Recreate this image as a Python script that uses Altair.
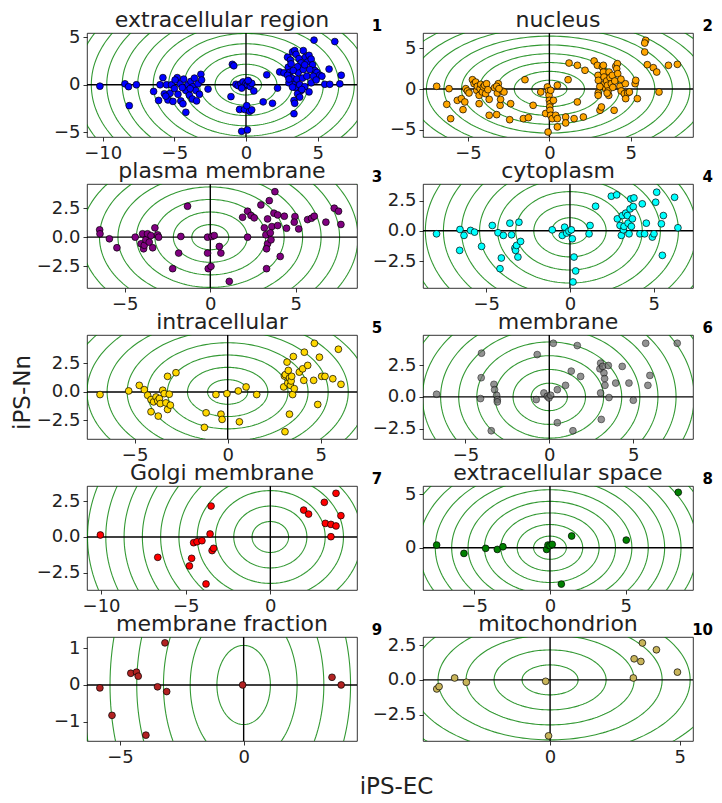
import altair as alt
import pandas as pd
import numpy as np

names = ["extracellular region", "nucleus", "plasma membrane", "cytoplasm", "intracellular",
         "membrane", "Golgi membrane", "extracellular space", "membrane fraction", "mitochondrion"]
colors = ["#0000ff", "#ffa500", "#800080", "#00ffff", "#ffd700",
          "#6e6e6e", "#ff0000", "#008000", "#b22222", "#c8b45a"]
point_opacity = [1, 1, 1, 1, 1, 0.75, 1, 1, 1, 1]
xdomains = [[-11.1, 7.75], [-7.77, 8.83], [-7.21, 8.58], [-8.78, 7.35], [-7.56, 6.95],
            [-7.53, 8.57], [-10.83, 5.12], [-8.37, 9.43], [-6.33, 4.58], [-4.9, 5.51]]
ydomains = [[-5.5, 5.45], [-5.88, 6.86], [-4.37, 4.57], [-4.73, 3.87], [-4.13, 5.0],
            [-3.31, 4.87], [-3.7, 3.56], [-3.94, 5.75], [-1.53, 1.31], [-4.4, 3.09]]
xticks = [[-10, -5, 0, 5], [-5, 0, 5], [-5, 0, 5], [-5, 0, 5], [-5, 0, 5],
          [-5, 0, 5], [-10, -5, 0], [-5, 0, 5], [-5, 0], [0, 5]]
yticks = [[-5, 0, 5], [-5, 0, 5], [-2.5, 0, 2.5], [-2.5, 0, 2.5], [-2.5, 0, 2.5],
          [-2.5, 0, 2.5], [-2.5, 0, 2.5], [0, 5], [-1, 0, 1], [-2.5, 0, 2.5]]
yformats = ["d", "d", ".1f", ".1f", ".1f", ".1f", ".1f", "d", "d", ".1f"]

# contour ring radii (concentric circles in data space)
ring_radii = [1.08, 2.16, 3.24, 4.32, 5.4, 6.48, 7.56, 8.64, 9.72, 10.8, 11.88, 12.96, 14.04]

p1 = [(-10.2,-0.15),(-8.45,0.1),(-8.2,-0.2),(-7.65,0.0),(-8.15,-2.2),
      (-6.45,-0.7),(-6.1,-1.65),(-6.0,0.0),(-5.8,0.75),(-5.7,-0.95),(-5.55,0.0),(-5.45,-1.6),(-5.3,-0.9),
      (-5.2,0.0),(-5.1,-1.75),(-5.0,-0.4),(-4.8,0.75),(-4.75,-1.0),(-4.6,0.1),(-4.55,-1.7),(-4.4,-2.0),
      (-4.2,-2.9),(-4.35,0.6),(-4.2,-0.6),(-4.05,0.0),(-3.95,-1.1),(-3.85,0.35),(-3.75,-1.5),(-3.7,-0.2),
      (-3.6,0.7),(-3.5,-0.6),(-3.45,-1.7),(-3.35,0.1),(-3.25,-1.0),(-3.15,1.1),(-3.1,0.5),(-2.65,-0.45),
      (-4.95,0.5),(-5.6,-1.2),(-3.9,-0.4),(-4.45,-0.3),
      (-0.95,2.15),(-0.85,2.0),(-1.05,-1.25),(-0.7,0.05),(-0.55,-0.1),(-0.35,0.1),(-0.2,0.3),(-0.1,-0.1),
      (0.0,0.15),(0.1,0.0),(0.2,0.3),(0.3,-0.2),(0.4,0.15),(0.55,-0.65),(-0.45,-2.6),(-0.1,-2.6),
      (0.25,-2.8),(0.4,-2.65),(-0.3,-4.9),(0.1,-4.75),(0.05,-2.2),(-0.3,-0.35),(0.15,0.45),
      (1.45,1.05),(1.2,-1.8),(1.85,-1.95),(2.2,-0.35),(2.35,1.35),(2.65,1.25),
      (2.9,2.9),(3.1,2.6),(3.25,3.45),(3.4,3.6),(3.5,3.2),(3.7,2.75),(3.85,2.3),(4.0,3.6),(4.15,2.9),
      (4.3,2.4),(4.4,3.1),(4.55,2.7),(4.65,2.1),(4.8,1.5),(4.95,1.3),(5.15,1.0),(5.3,0.9),(5.5,0.05),
      (5.8,1.65),(5.85,0.05),(6.55,0.1),(6.65,1.0),(6.2,4.55),(4.75,4.7),
      (2.95,1.85),(3.05,1.3),(3.2,0.7),(3.35,0.0),(3.45,-0.3),(3.55,0.6),(3.65,1.3),(3.75,0.0),(3.85,-0.6),
      (3.95,0.7),(4.1,-0.2),(4.25,0.9),(4.4,-0.75),(4.55,0.2),(4.7,0.9),(3.0,0.2),(3.25,-0.25),(3.6,-0.95),
      (3.75,-1.3),(3.9,-0.5),(3.35,-1.65),(3.4,-1.95),(3.35,-3.05),(2.9,1.0),(3.15,2.2),(3.6,1.9),(4.0,1.6),
      (4.45,1.6),(4.9,0.5),(4.1,2.1),(3.3,1.5),(3.0,0.6)]
p2 = [(-6.93,0.33),(-6.17,0.04),(-6.31,-1.88),(-6.07,-3.63),(-5.66,-1.39),(-5.41,-1.18),(-5.31,-2.53),
      (-5.2,-1.59),(-5.14,0.04),(-5.04,-0.24),(-4.94,-0.49),(-4.73,1.14),(-4.63,0.65),(-4.53,0.85),
      (-4.47,-0.16),(-4.43,0.33),(-4.32,-0.78),(-4.26,0.04),(-4.22,0.57),(-4.12,-0.37),(-4.06,0.25),
      (-3.98,0.45),(-3.92,-0.57),(-3.86,0.65),(-3.78,-0.08),(-3.7,-1.27),(-4.32,-1.8),(-3.7,-3.22),
      (-3.24,-3.14),(-3.2,-0.49),(-3.14,0.65),(-3.03,-2.0),(-3.0,-1.27),(-2.9,-0.24),(-2.79,-0.37),
      (-3.37,0.16),(-3.24,0.33),(-3.1,0.04),(-2.38,-1.8),(-2.44,-3.76),(-1.5,1.14),(-1.6,-3.63),
      (-1.29,-3.51),(-1.0,-2.0),(-0.53,-0.37),(-0.23,-3.0),(-0.12,0.25),(-0.06,-0.24),(-0.02,-0.78),
      (0.0,-1.39),(0.04,-1.8),(0.02,-2.2),(0.04,-2.61),(0.08,-3.22),(0.18,-3.63),(-0.08,-5.27),
      (0.08,-0.16),(0.49,0.45),(0.25,-1.39),(0.39,-3.22),(0.49,-3.63),(0.49,-4.65),(1.0,-3.43),
      (1.0,-4.16),(1.15,1.14),(1.21,3.18),(1.52,-3.63),(1.72,-1.59),(1.72,2.9),(2.09,-3.43),(2.19,2.29),
      (2.75,3.43),(2.95,2.9),(2.99,1.67),(3.01,1.06),(3.0,-0.49),(3.0,-0.78),(3.11,-2.61),(3.2,-2.2),
      (3.26,2.69),(3.32,2.08),(3.36,1.47),(3.4,0.65),(3.46,0.04),(3.52,0.98),(3.57,0.45),(3.61,-0.24),
      (3.65,-0.78),(3.32,2.9),(3.67,2.08),(3.73,1.39),(3.81,0.65),(3.87,1.67),(3.98,-2.61),(4.02,0.98),
      (4.08,2.78),(4.18,3.1),(4.14,2.49),(4.2,1.88),(4.34,0.33),(4.41,-0.24),(4.61,-0.57),(4.67,0.65),
      (4.81,-0.49),(4.92,-0.37),(5.27,0.65),(5.31,1.06),(4.69,-1.18),(5.41,-1.18),(5.92,5.96),
      (5.86,5.63),(5.86,4.53),(6.02,2.98),(6.39,2.61),(6.6,2.08),(6.74,-0.37),(7.32,2.9),(7.87,3.02),
      (3.1,0.3),(3.55,-0.5),(3.9,0.2),(4.4,1.2)]
p3 = [(-6.47,0.63),(-6.45,0.29),(-5.9,-0.14),(-5.46,-0.91),(-4.39,0.0),(-4.05,-0.57),(-3.96,0.29),
      (-3.9,-1.0),(-3.86,-0.7),(-3.77,-0.23),(-3.67,0.29),(-3.57,-0.43),(-3.47,0.14),(-3.37,-0.91),
      (-3.24,0.8),(-3.08,0.2),(-3.02,0.0),(-1.72,0.06),(-1.85,-1.37),(-2.2,-2.71),(-1.33,2.66),
      (-0.16,0.0),(-0.16,-1.37),(-0.12,-2.71),(0.04,-2.51),(0.1,0.06),(0.23,0.14),(0.53,-0.8),
      (0.62,-1.37),(1.11,-3.8),(2.18,0.0),(1.89,1.71),(2.18,2.23),(2.38,1.86),(2.57,1.66),(2.96,2.77),
      (3.35,1.57),(3.45,3.14),(3.6,0.91),(3.16,0.8),(3.25,0.2),(3.35,-0.57),(3.29,-1.0),(3.29,-2.71),
      (3.51,0.37),(3.55,-0.23),(3.72,2.06),(3.78,3.91),(3.94,1.91),(3.94,1.0),(4.09,-1.66),(4.33,1.8),
      (4.46,0.77),(4.95,1.77),(4.91,1.29),(5.17,0.71),(5.69,1.51),(5.92,1.63),(6.08,1.8),(6.76,1.29),
      (7.25,2.49),(7.5,2.23),(7.64,1.09)]
p4 = [(-7.97,-0.25),(-6.57,0.11),(-6.59,-1.62),(-6.33,-0.38),(-5.94,0.03),(-5.7,-0.11),(-5.28,-1.29),
      (-4.64,0.44),(-4.3,-0.16),(-4.18,-3.13),(-4.1,-2.25),(-3.98,-0.38),(-3.59,0.63),(-3.49,-0.33),
      (-3.29,-1.43),(-3.25,-1.62),(-3.19,-1.21),(-3.11,-2.17),(-3.05,0.71),(-2.95,-0.88),(-1.06,0.08),
      (-0.46,-0.38),(-0.32,0.3),(-0.2,-0.19),(-0.06,-0.03),(0.08,0.08),(0.14,-0.66),(0.24,-2.17),
      (0.34,-3.32),(0.18,-4.23),(1.2,0.44),(1.14,-0.25),(1.53,2.03),(2.47,2.86),(2.79,2.97),
      (2.83,0.99),(2.99,0.44),(3.07,-0.38),(3.13,1.26),(3.19,0.08),(3.23,0.36),(3.33,1.46),(3.43,1.26),
      (3.47,0.63),(3.53,-0.25),(3.59,1.81),(3.63,2.64),(3.67,0.36),(3.73,0.99),(3.78,2.0),(3.82,2.72),
      (4.18,-0.25),(4.32,2.23),(4.46,-0.25),(4.56,0.63),(4.92,-0.52),(5.02,-0.25),(5.12,2.36),
      (5.18,3.19),(5.46,0.58),(5.52,-2.03),(5.58,1.26),(6.25,2.77),(6.45,0.25)]
p5 = [(-6.86,-0.23),(-5.32,0.09),(-4.75,0.58),(-4.48,0.2),(-4.3,-0.29),(-4.12,-0.67),(-4.12,-1.74),
      (-3.98,-0.87),(-3.85,-0.44),(-3.76,-0.78),(-3.73,-2.12),(-3.67,-0.58),(-3.62,-1.02),(-3.49,0.15),
      (-3.41,-0.15),(-3.32,-0.96),(-3.23,-1.54),(-3.14,-0.2),(-3.08,-1.16),(-3.23,1.37),(-2.78,1.69),
      (-1.16,-1.83),(-1.25,-3.11),(-0.63,-0.23),(-0.36,-1.95),(-0.3,-2.41),(-0.04,-0.15),(0.57,0.09),
      (0.63,-2.62),(0.99,0.44),(1.56,-0.23),(3.01,0.44),(3.05,1.4),(3.08,-3.49),(3.1,1.52),(3.19,2.62),
      (3.23,0.78),(3.26,1.89),(3.32,-1.95),(3.32,1.23),(3.37,0.58),(3.41,0.96),(3.44,1.37),(3.49,-0.23),
      (3.53,3.11),(3.58,0.29),(3.85,1.74),(4.03,2.03),(4.12,3.49),(4.09,1.02),(4.3,2.33),(4.66,4.27),
      (4.62,1.02),(4.84,-1.1),(4.93,3.05),(5.05,1.37),(5.23,1.37),(5.65,1.16),(5.95,3.75),(6.09,0.67)]
p6 = [(-6.72,0.21),(-4.06,1.51),(-4.04,3.44),(-4.1,-0.13),(-3.46,-2.66),(-3.3,0.99),(-3.26,0.57),
      (-3.14,0.13),(-3.1,-0.21),(-3.1,-0.39),(-0.72,3.33),(-0.78,-0.21),(-0.32,0.31),(-0.12,0.05),
      (-0.02,-0.08),(0.08,0.13),(0.48,0.57),(0.24,4.22),(0.48,-2.03),(0.97,0.91),(1.31,2.03),
      (1.41,-2.66),(1.67,4.04),(1.87,1.61),(3.02,2.21),(3.06,2.66),(3.06,0.31),(3.1,-1.77),(3.18,2.4),
      (3.26,1.88),(3.3,1.44),(3.32,0.91),(3.52,2.47),(3.56,-0.05),(3.96,1.09),(4.35,2.4),(4.75,1.09),
      (5.01,-0.26),(5.75,4.22),(5.88,0.91),(6.0,1.69),(7.63,4.22)]
p7 = [(-10.04,0.14),(-6.65,-1.42),(-4.78,-2.02),(-4.65,-1.49),(-4.53,-0.4),(-4.33,-0.33),(-4.04,-0.26),
      (-3.8,-3.28),(-3.56,0.21),(-3.5,2.16),(-3.44,-0.95),(-3.35,-0.79),(1.97,1.88),(2.26,1.6),
      (3.19,2.42),(3.25,0.95),(3.58,0.88),(3.58,0.02),(3.88,0.77),(3.88,3.05),(4.17,1.49)]
p8 = [(-7.47,0.25),(-5.67,-0.53),(-4.24,-0.06),(-3.47,-0.16),(-3.1,0.09),(-0.22,-0.16),(-0.13,0.25),
      (0.0,0.19),(0.15,0.31),(0.75,-3.39),(1.43,1.09),(5.03,0.71),(8.46,5.16)]
p9 = [(-5.81,-0.08),(-5.32,-0.83),(-4.56,0.32),(-4.33,0.35),(-4.26,0.24),(-3.95,-1.37),(-3.48,-0.05),
      (-3.18,1.15),(-3.11,-0.18),(-0.04,0.0),(3.57,0.21),(3.94,0.0)]
p10 = [(-4.37,-0.65),(-4.28,-0.48),(-3.68,0.14),(-3.23,-0.17),(-0.17,-0.1),(-0.06,-4.03),(3.21,0.14),
       (3.24,1.52),(3.5,1.33),(3.56,2.66),(4.1,2.17),(4.91,0.56)]
points = [p1, p2, p3, p4, p5, p6, p7, p8, p9, p10]

FONT = "DejaVu Sans"
W, H = 270, 104

theta = np.linspace(0, 2 * np.pi, 181)
ring_df = pd.DataFrame([
    {"r": r, "k": j, "x": r * np.cos(t), "y": r * np.sin(t)}
    for r in ring_radii for j, t in enumerate(theta)
])
zero_df = pd.DataFrame({"z": [0.0]})


def panel(i):
    pts = pd.DataFrame(points[i], columns=["x", "y"])
    xs = alt.Scale(domain=xdomains[i], nice=False, zero=False)
    ys = alt.Scale(domain=ydomains[i], nice=False, zero=False)
    xaxis_kw = dict(values=xticks[i], format="d", title=None)
    yaxis_kw = dict(values=yticks[i], format=yformats[i], title=None)
    if i == 4:
        yaxis_kw.update(title="iPS-Nn", titleX=-53, titleY=57, titleAlign="center",
                        titleBaseline="bottom", titleFontSize=23, titleFont=FONT,
                        titleFontWeight="normal", titleColor="#222222", titleAngle=270)
    if i == 8:
        xaxis_kw.update(title="iPS-EC", titleX=309, titleY=52, titleAlign="center",
                        titleBaseline="alphabetic", titleFontSize=23, titleFont=FONT,
                        titleFontWeight="normal", titleColor="#222222")
    X = alt.X("x:Q", scale=xs, axis=alt.Axis(**xaxis_kw))
    Y = alt.Y("y:Q", scale=ys, axis=alt.Axis(**yaxis_kw))
    rings = alt.Chart(ring_df).mark_line(
        clip=True, color="#008000", strokeWidth=1.1, opacity=0.8
    ).encode(x=X, y=Y, detail="r:N", order="k:Q")
    hline = alt.Chart(zero_df).mark_rule(color="black", strokeWidth=1.4).encode(
        y=alt.Y("z:Q", scale=ys))
    vline = alt.Chart(zero_df).mark_rule(color="black", strokeWidth=1.4).encode(
        x=alt.X("z:Q", scale=xs))
    dots = alt.Chart(pts).mark_circle(
        size=46, color=colors[i], stroke="black", strokeWidth=0.7,
        opacity=point_opacity[i], clip=True
    ).encode(x=X, y=Y)
    label_df = pd.DataFrame({"n": [str(i + 1)], "t": [names[i]]})
    right_col = (i % 2 == 1)
    num = alt.Chart(label_df).mark_text(
        font=FONT, fontSize=15, fontWeight="bold",
        align="right" if right_col else "center",
        baseline="alphabetic", color="black"
    ).encode(x=alt.value(W + 20), y=alt.value(-2), text="n:N")
    ttl = alt.Chart(label_df).mark_text(
        font=FONT, fontSize=22, fontWeight="normal", align="center",
        baseline="alphabetic", color="#222222"
    ).encode(x=alt.value(W / 2), y=alt.value(-6), text="t:N")
    return alt.layer(rings, hline, vline, dots, num, ttl).properties(width=W, height=H)


chart = alt.concat(*[panel(i) for i in range(10)], columns=2,
                   spacing={"row": 47, "column": 66}, bounds="flush").properties(
    padding={"left": 2, "top": 0, "right": 0, "bottom": 0}
).configure_view(
    stroke="black", strokeWidth=0.8
).configure_axis(
    grid=False, domain=False, ticks=True, tickSize=4, tickWidth=0.8, tickColor="black",
    labelFont=FONT, labelFontSize=18, labelColor="#222222", labelPadding=3,
    labelFlush=False, labelOverlap=False
)

chart.save("out.html", embed_options={"renderer": "svg", "actions": False})
